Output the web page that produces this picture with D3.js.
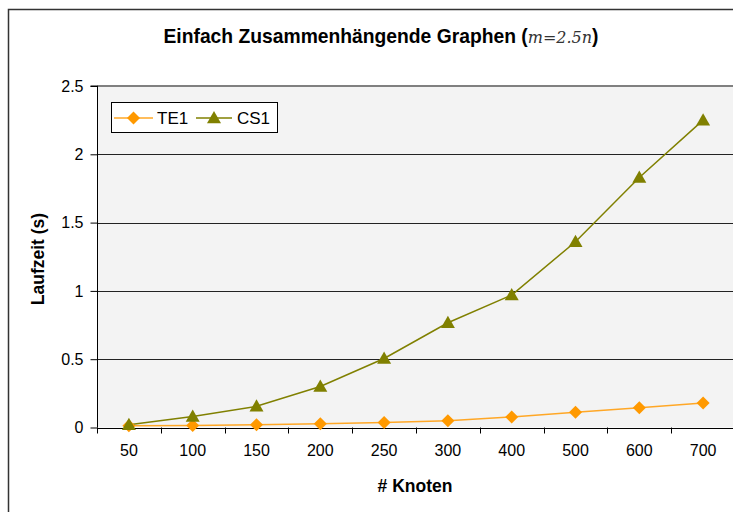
<!DOCTYPE html>
<html>
<head>
<meta charset="utf-8">
<script src="https://cdn.jsdelivr.net/npm/d3@7"></script>
<style>
  html, body { margin: 0; padding: 0; background: #fff; }
  svg { display: block; }
</style>
</head>
<body>
<svg id="chart" width="733" height="512"></svg>
<script>
const categories = ["50", "100", "150", "200", "250", "300", "400", "500", "600", "700"];
const te1 = [0.012, 0.015, 0.02, 0.028, 0.036, 0.05, 0.077, 0.111, 0.145, 0.18];
const cs1 = [0.02, 0.08, 0.155, 0.30, 0.505, 0.767, 0.97, 1.36, 1.83, 2.25];
const yTicks = [0, 0.5, 1, 1.5, 2, 2.5];
const seriesNames = ["TE1", "CS1"];

const svg = d3.select("#chart");
const font = "'Liberation Sans', Arial, sans-serif";
const serif = "'DejaVu Serif', 'Liberation Serif', serif";

// outer chart border
svg.append("rect").attr("x", 8.5).attr("y", 9.5).attr("width", 740).attr("height", 520)
  .attr("fill", "#fff").attr("stroke", "#333").attr("stroke-width", 1.5);

const x = d3.scaleBand().domain(categories).range([97, 735]).padding(0);
const y = d3.scaleLinear().domain([0, 2.5]).range([427.5, 86]);

// plot area
svg.append("rect").attr("x", 97).attr("y", y(2.5)).attr("width", 735 - 97).attr("height", y(0) - y(2.5))
  .attr("fill", "#f3f3f3");

// gridlines
svg.append("g").selectAll("line").data(yTicks.filter(d => d > 0 && d < 2.5)).join("line")
  .attr("x1", 97).attr("x2", 735)
  .attr("y1", d => Math.round(y(d)) + 0.5).attr("y2", d => Math.round(y(d)) + 0.5)
  .attr("stroke", "#222").attr("stroke-width", 1);
// top border of plot area
svg.append("line").attr("x1", 97).attr("x2", 735).attr("y1", y(2.5)).attr("y2", y(2.5))
  .attr("stroke", "#808080").attr("stroke-width", 2);

// y axis
const yAxis = d3.axisLeft(y).tickValues(yTicks).tickSize(7).tickPadding(7)
  .tickFormat(d => d3.format("")(d));
const gy = svg.append("g").attr("transform", "translate(97.5,0)").call(yAxis);
gy.select(".domain").attr("stroke", "#000").attr("d", `M-7,${y(2.5)}H0V${y(0)}`);
gy.selectAll(".tick line").attr("stroke", "#000");
gy.selectAll("text").attr("font-family", font).attr("font-size", 16).attr("fill", "#000");

// x axis
const xAxis = d3.axisBottom(x).tickSize(0).tickPadding(16);
const gx = svg.append("g").attr("transform", `translate(0,${Math.round(y(0)) + 0.5})`).call(xAxis);
gx.select(".domain").attr("stroke", "#000").attr("d", "M97,0H735");
gx.selectAll("text").attr("font-family", font).attr("font-size", 16).attr("fill", "#000");
// tick marks at category boundaries
svg.append("g").selectAll("line").data(categories).join("line")
  .attr("x1", d => Math.round(x(d)) + 0.5).attr("x2", d => Math.round(x(d)) + 0.5)
  .attr("y1", y(0)).attr("y2", y(0) + 6).attr("stroke", "#000");

// lines
const line = d3.line().x((d, i) => x(categories[i]) + x.bandwidth() / 2).y(d => y(d));
svg.append("path").datum(te1).attr("d", line).attr("fill", "none")
  .attr("stroke", "#ffa726").attr("stroke-width", 1.5);
svg.append("path").datum(cs1).attr("d", line).attr("fill", "none")
  .attr("stroke", "#808000").attr("stroke-width", 1.5);

function diamondPath(cx, cy, r) {
  return `M${cx},${cy - r}L${cx + r},${cy}L${cx},${cy + r}L${cx - r},${cy}Z`;
}
function triPath(cx, cy, r) {
  return `M${cx},${cy - r}L${cx + r},${cy + r * 0.75}L${cx - r},${cy + r * 0.75}Z`;
}

svg.append("g").selectAll("path").data(te1).join("path")
  .attr("d", (d, i) => diamondPath(x(categories[i]) + x.bandwidth() / 2, y(d), 6.5))
  .attr("fill", "#ff9900");
svg.append("g").selectAll("path").data(cs1).join("path")
  .attr("d", (d, i) => triPath(x(categories[i]) + x.bandwidth() / 2, y(d), 7))
  .attr("fill", "#808000");

// legend
const lg = svg.append("g");
lg.append("rect").attr("x", 111.5).attr("y", 102.5).attr("width", 166).attr("height", 30)
  .attr("fill", "#fff").attr("stroke", "#000");
lg.append("line").attr("x1", 114).attr("x2", 153).attr("y1", 118).attr("y2", 118)
  .attr("stroke", "#ffa726").attr("stroke-width", 1.5);
lg.append("path").attr("d", diamondPath(133.5, 118, 6.5)).attr("fill", "#ff9900");
lg.append("text").attr("x", 157).attr("y", 124).text(seriesNames[0])
  .attr("font-family", font).attr("font-size", 17);
lg.append("line").attr("x1", 196).attr("x2", 232).attr("y1", 118).attr("y2", 118)
  .attr("stroke", "#808000").attr("stroke-width", 1.5);
lg.append("path").attr("d", triPath(214, 118, 7)).attr("fill", "#808000");
lg.append("text").attr("x", 237).attr("y", 124).text(seriesNames[1])
  .attr("font-family", font).attr("font-size", 17);

// title
const t = svg.append("text").attr("x", 381).attr("y", 43).attr("text-anchor", "middle")
  .attr("font-family", font).attr("font-size", 19.3).attr("font-weight", "bold");
t.append("tspan").text("Einfach Zusammenhängende Graphen (");
t.append("tspan").attr("font-family", serif).attr("font-style", "italic").attr("font-weight", "normal").attr("font-size", 16).attr("fill", "#333").text("m");
t.append("tspan").attr("font-family", serif).attr("font-weight", "normal").attr("font-size", 16).attr("fill", "#333").text("=");
t.append("tspan").attr("font-family", serif).attr("font-style", "italic").attr("font-weight", "normal").attr("font-size", 16).attr("fill", "#333").text("2.5n");
t.append("tspan").text(")");

// axis titles
svg.append("text").attr("transform", "translate(44,259) rotate(-90)").attr("text-anchor", "middle")
  .attr("font-family", font).attr("font-size", 17.5).attr("font-weight", "bold").text("Laufzeit (s)");
svg.append("text").attr("x", 415).attr("y", 492).attr("text-anchor", "middle")
  .attr("font-family", font).attr("font-size", 17.5).attr("font-weight", "bold").text("# Knoten");
</script>
</body>
</html>
